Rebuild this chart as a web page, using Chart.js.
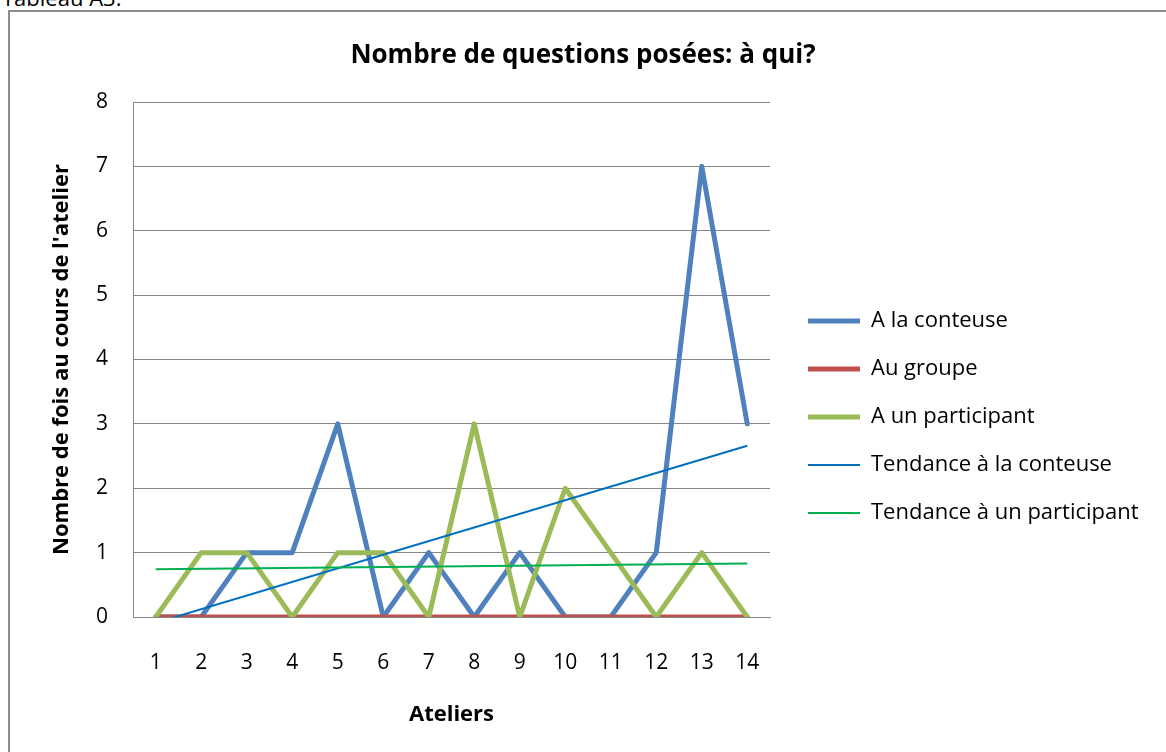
<!DOCTYPE html>
<html lang="fr">
<head>
<meta charset="utf-8">
<title>Nombre de questions posées: à qui?</title>
<script src="https://cdn.jsdelivr.net/npm/chart.js@4.4.0/dist/chart.umd.min.js"></script>
<style>
  html, body { margin: 0; padding: 0; background: #fff; overflow: hidden; }
  #page { position: relative; width: 1166px; height: 752px; }
  #caption { position: absolute; left: 2px; top: -18px; font: 22px "Open Sans", sans-serif; color: #000; }
  #frame { position: absolute; left: 8px; top: 10px; width: 1200px; height: 800px; border: 2px solid #8c8c8c; }
  #chart { position: absolute; left: 0; top: 0; }
</style>
</head>
<body>
<div id="page">
  <div id="caption">Tableau A3.</div>
  <div id="frame"></div>
  <canvas id="chart" width="1166" height="752"></canvas>
</div>
<script>
// données
const ateliers = ['1', '2', '3', '4', '5', '6', '7', '8', '9', '10', '11', '12', '13', '14'];
const aLaConteuse = [0, 0, 1, 1, 3, 0, 1, 0, 1, 0, 0, 1, 7, 3];
const auGroupe = [0, 0, 0, 0, 0, 0, 0, 0, 0, 0, 0, 0, 0, 0];
const aUnParticipant = [0, 1, 1, 0, 1, 1, 0, 3, 0, 2, 1, 0, 1, 0];
// tendances : valeur au premier et au dernier atelier
const tendanceConteuse = [-0.09, 2.66];
const tendanceParticipant = [0.74, 0.83];

const yTicks = [0, 1, 2, 3, 4, 5, 6, 7, 8];

// une tendance ne donne que ses deux extrémités, le reste est vide
function endpoints(ends) {
    return ateliers.map((a, i) => {
        if (i === 0) return ends[0];
        if (i === ateliers.length - 1) return ends[1];
        return null;
    });
}

Chart.defaults.font.family = '"Open Sans", sans-serif';
Chart.defaults.color = '#000';

const axisGray = '#868686';
const tickFont = { size: 21 };
const legendFont = { size: 22 };

const ctx = document.getElementById('chart').getContext('2d');
const chart = new Chart(ctx, {
    type: 'line',
    data: {
        labels: ateliers,
        datasets: [
            {
                label: 'A la conteuse',
                data: aLaConteuse,
                borderColor: '#4f81bd',
                backgroundColor: '#4f81bd',
                borderWidth: 5,
                order: 5
            },
            {
                label: 'Au groupe',
                data: auGroupe,
                borderColor: '#c0504d',
                backgroundColor: '#c0504d',
                borderWidth: 5,
                order: 4
            },
            {
                label: 'A un participant',
                data: aUnParticipant,
                borderColor: '#9bbb59',
                backgroundColor: '#9bbb59',
                borderWidth: 5,
                order: 3
            },
            {
                label: 'Tendance à la conteuse',
                data: endpoints(tendanceConteuse),
                borderColor: '#0070c0',
                backgroundColor: '#0070c0',
                borderWidth: 2,
                borderCapStyle: 'butt',
                spanGaps: true,
                order: 2
            },
            {
                label: 'Tendance à un participant',
                data: endpoints(tendanceParticipant),
                borderColor: '#00b050',
                backgroundColor: '#00b050',
                borderWidth: 2,
                borderCapStyle: 'butt',
                spanGaps: true,
                order: 1
            }
        ]
    },
    options: {
        responsive: false,
        animation: false,
        layout: { padding: 0 },
        elements: {
            point: { radius: 0, hoverRadius: 0 },
            line: { tension: 0, borderCapStyle: 'round', borderJoinStyle: 'round', fill: false }
        },
        plugins: {
            title: {
                display: true,
                text: 'Nombre de questions posées: à qui?',
                color: '#000',
                font: { size: 26, weight: 'bold', lineHeight: 1.25 },
                padding: { top: 39, bottom: 30.5 }
            },
            legend: {
                display: true,
                position: 'right',
                align: 'start',
                maxWidth: 420,
                title: {
                    // sert seulement à descendre la légende
                    display: true,
                    text: '',
                    font: { size: 10, lineHeight: 1 },
                    padding: { top: 274, bottom: 0 }
                },
                labels: {
                    usePointStyle: true,
                    pointStyle: 'line',
                    pointStyleWidth: 52,
                    padding: 26,
                    color: '#000',
                    font: legendFont,
                    sort: (a, b) => a.datasetIndex - b.datasetIndex
                }
            },
            tooltip: { enabled: false }
        },
        scales: {
            x: {
                type: 'category',
                offset: true,
                grid: { display: false, drawTicks: false },
                border: { display: true, color: axisGray, width: 1 },
                ticks: { padding: 33, font: tickFont, color: '#000' },
                title: {
                    display: true,
                    text: 'Ateliers',
                    color: '#000',
                    font: { size: 22, weight: 'bold', lineHeight: 1.2 },
                    padding: { top: 0, bottom: 24 }
                },
                afterFit: (scale) => { scale.height = 135; }
            },
            y: {
                min: 0,
                max: 8,
                afterBuildTicks: (scale) => { scale.ticks = yTicks.map(v => ({ value: v })); },
                grid: { color: axisGray, lineWidth: 1, drawTicks: false },
                border: { display: true, color: axisGray, width: 1 },
                ticks: { padding: 25, font: tickFont, color: '#000' },
                title: {
                    display: true,
                    text: "Nombre de fois au cours de l'atelier",
                    color: '#000',
                    font: { size: 22, weight: 'bold', lineHeight: 1.2 },
                    padding: { top: 49, bottom: 0 }
                },
                afterFit: (scale) => { scale.width = 133; }
            },
            // écart entre la zone du graphique et la légende
            gapRight: {
                type: 'linear',
                position: 'right',
                display: true,
                grid: { display: false },
                border: { display: false },
                ticks: { display: false },
                afterFit: (scale) => { scale.width = 12; }
            },
            // marge à droite de la légende
            padRight: {
                type: 'linear',
                position: 'right',
                weight: 2000,
                display: true,
                grid: { display: false },
                border: { display: false },
                ticks: { display: false },
                afterFit: (scale) => {
                    const lg = scale.chart.legend;
                    const w = lg ? lg.width : 0;
                    scale.width = Math.max(0, scale.chart.width - 782 - w);
                }
            }
        }
    }
});
</script>
</body>
</html>
